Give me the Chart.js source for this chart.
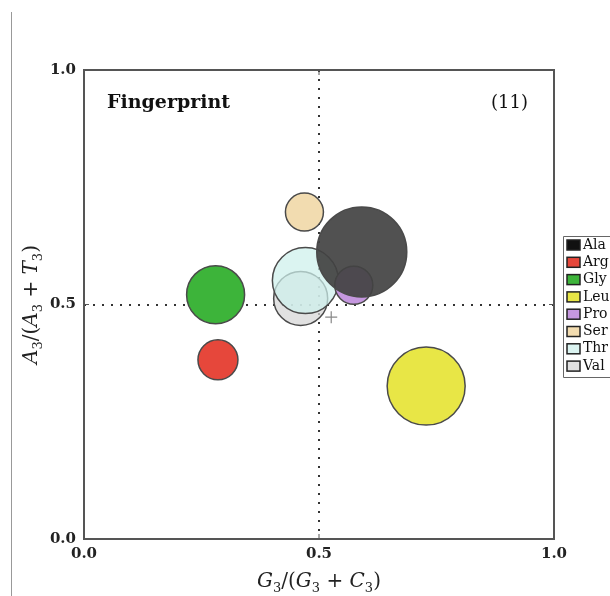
<!DOCTYPE html>
<html>
<head>
<meta charset="utf-8">
<script src="https://cdn.jsdelivr.net/npm/chart.js@4"></script>
<style>
  html, body { margin: 0; padding: 0; background: #fff; }
  #wrap { width: 610px; height: 596px; }
</style>
</head>
<body>
<div id="wrap"><canvas id="chart" width="610" height="596"></canvas></div>
<script>
const labels = ['Ala', 'Arg', 'Gly', 'Leu', 'Pro', 'Ser', 'Thr', 'Val'];
const xValues = [0.591, 0.285, 0.280, 0.728, 0.574, 0.469, 0.471, 0.461];
const yValues = [0.612, 0.382, 0.521, 0.326, 0.541, 0.697, 0.551, 0.513];
const sizes = [45, 20, 29, 39, 19, 19, 33, 27];
const meanPoint = { x: 0.526, y: 0.473 };
const tickValues = [0, 0.5, 1.0];

const fills = [
    'rgba(66,66,66,0.92)',
    '#e6473b',
    '#3db43a',
    '#e8e646',
    '#c597df',
    '#f2dcb0',
    'rgba(205,240,236,0.72)',
    'rgba(214,214,214,0.72)'
];

const serif = '"DejaVu Serif", "Liberation Serif", serif';

const datasets = labels.map((name, i) => ({
    type: 'bubble',
    label: name,
    data: [{ x: xValues[i], y: yValues[i], r: sizes[i] }],
    backgroundColor: fills[i],
    borderColor: '#4a4a4a',
    borderWidth: 1.5,
    hoverRadius: 0
}));

datasets.push({
    type: 'scatter',
    label: 'mean',
    data: [meanPoint],
    pointStyle: 'cross',
    pointRadius: 6,
    borderColor: '#888',
    borderWidth: 1.2
});

// pieces: [text, kind] kind: 'i' italic, 'u' upright, 's' subscript
function mathWidth(c, parts) {
    let w = 0;
    parts.forEach(p => { c.font = fontFor(p[1]); w += c.measureText(p[0]).width; });
    return w;
}
function fontFor(kind) {
    if (kind === 'i') return 'italic 20px ' + serif;
    if (kind === 's') return '13px ' + serif;
    return '20px ' + serif;
}
function drawMath(c, parts, x, y) {
    let cx = x - mathWidth(c, parts) / 2;
    parts.forEach(p => {
        c.font = fontFor(p[1]);
        c.fillText(p[0], cx, p[1] === 's' ? y + 5 : y);
        cx += c.measureText(p[0]).width;
    });
}
const xTitle = [['G', 'i'], ['3', 's'], ['/(', 'u'], ['G', 'i'], ['3', 's'], [' + ', 'u'], ['C', 'i'], ['3', 's'], [')', 'u']];
const yTitle = [['A', 'i'], ['3', 's'], ['/(', 'u'], ['A', 'i'], ['3', 's'], [' + ', 'u'], ['T', 'i'], ['3', 's'], [')', 'u']];

const decorations = {
    id: 'decorations',
    afterDraw(chart) {
        const c = chart.ctx;
        const a = chart.chartArea;
        const xs = chart.scales.x, ys = chart.scales.y;
        c.save();

        // page rule on the left
        c.strokeStyle = '#999';
        c.lineWidth = 1;
        c.beginPath();
        c.moveTo(11.5, 12);
        c.lineTo(11.5, 596);
        c.stroke();

        // frame
        c.strokeStyle = '#555';
        c.lineWidth = 2;
        c.strokeRect(a.left, a.top, a.right - a.left, a.bottom - a.top);

        // inner tick marks at 0.5
        c.lineWidth = 1;
        const mx = xs.getPixelForValue(0.5), my = ys.getPixelForValue(0.5);
        c.beginPath();
        c.moveTo(mx, a.bottom); c.lineTo(mx, a.bottom - 5);
        c.moveTo(mx, a.top); c.lineTo(mx, a.top + 5);
        c.moveTo(a.left, my); c.lineTo(a.left + 5, my);
        c.moveTo(a.right, my); c.lineTo(a.right - 5, my);
        c.stroke();

        // corner texts
        c.fillStyle = '#111';
        c.font = 'bold 19px ' + serif;
        c.textBaseline = 'middle';
        c.textAlign = 'left';
        c.fillText('Fingerprint', 107, 103);
        c.textAlign = 'right';
        c.font = '18px ' + serif;
        c.fillText('(11)', 528, 103);

        // axis titles
        c.fillStyle = '#222';
        c.textAlign = 'left';
        c.textBaseline = 'alphabetic';
        drawMath(c, xTitle, (a.left + a.right) / 2, 587);
        c.save();
        c.translate(37, (a.top + a.bottom) / 2);
        c.rotate(-Math.PI / 2);
        drawMath(c, yTitle, 0, 0);
        c.restore();

        // legend
        const lx = 563, ly = 236, rowH = 17.3;
        c.strokeStyle = '#666';
        c.lineWidth = 1;
        c.beginPath();
        c.moveTo(620, ly + 0.5);
        c.lineTo(lx + 0.5, ly + 0.5);
        c.lineTo(lx + 0.5, ly + 141.5);
        c.lineTo(620, ly + 141.5);
        c.stroke();
        c.font = '14px ' + serif;
        c.textBaseline = 'middle';
        labels.forEach((name, i) => {
            const y = ly + 9 + i * rowH;
            c.fillStyle = i === 0 ? '#111' : fills[i];
            c.fillRect(567, y - 5, 13, 10);
            c.strokeStyle = '#222';
            c.lineWidth = 1.5;
            c.strokeRect(567, y - 5, 13, 10);
            c.fillStyle = '#111';
            c.fillText(name, 583, y);
        });
        c.restore();
    }
};

function gridColor(ctx) {
    return ctx.tick && ctx.tick.value === 0.5 ? '#333' : 'rgba(0,0,0,0)';
}

new Chart(document.getElementById('chart'), {
    type: 'bubble',
    data: { datasets: datasets },
    options: {
        responsive: false,
        animation: false,
        events: [],
        layout: { padding: { top: 70, right: 56, left: 0, bottom: 0 } },
        plugins: { legend: { display: false }, tooltip: { enabled: false } },
        scales: {
            x: {
                type: 'linear', min: 0, max: 1,
                afterBuildTicks: s => { s.ticks = tickValues.map(v => ({ value: v })); },
                afterFit: s => { s.height = 57; },
                ticks: {
                    color: '#222', padding: 6,
                    font: { family: serif, size: 15, weight: 'bold' },
                    callback: v => v.toFixed(1)
                },
                grid: { color: gridColor, lineWidth: 2, drawTicks: false },
                border: { display: false, dash: [2, 7] }
            },
            y: {
                type: 'linear', min: 0, max: 1,
                afterBuildTicks: s => { s.ticks = tickValues.map(v => ({ value: v })); },
                afterFit: s => { s.width = 84; },
                ticks: {
                    color: '#222', padding: 8,
                    font: { family: serif, size: 15, weight: 'bold' },
                    callback: v => v.toFixed(1)
                },
                grid: { color: gridColor, lineWidth: 2, drawTicks: false },
                border: { display: false, dash: [2, 7] }
            }
        }
    },
    plugins: [decorations]
});
</script>
</body>
</html>
